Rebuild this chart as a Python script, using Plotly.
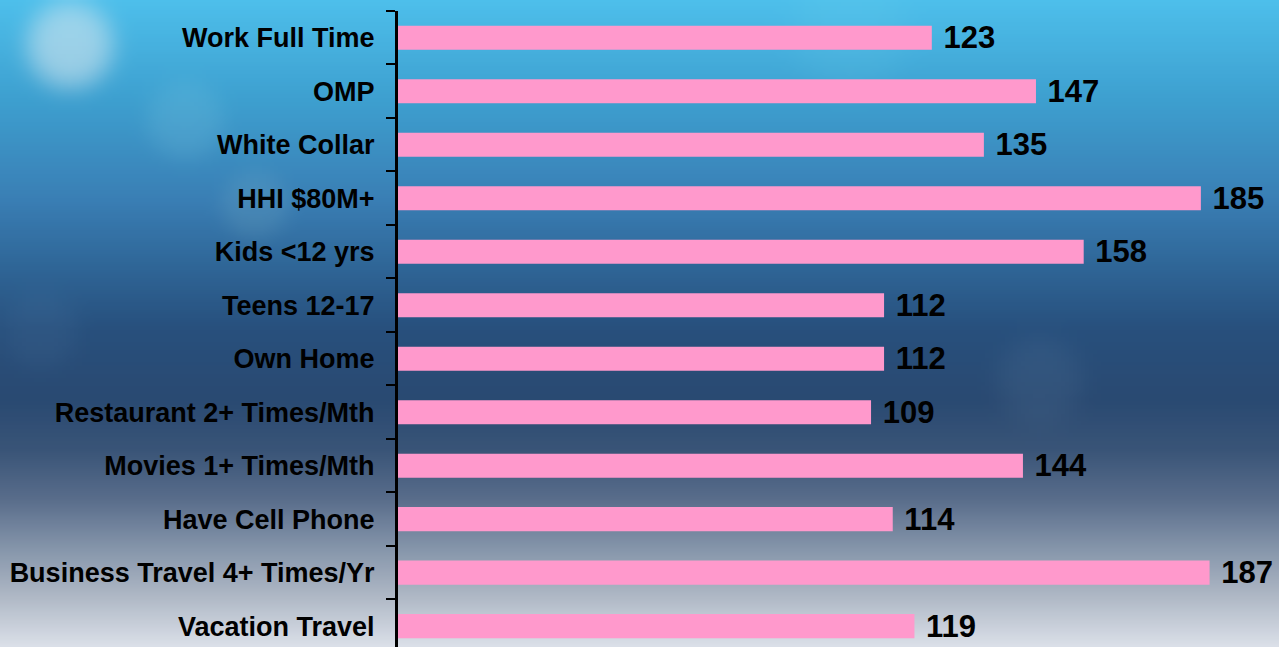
import base64
import math
import struct
import zlib

import plotly.graph_objects as go

# ---------------- data ----------------
categories = [
    "Work Full Time",
    "OMP",
    "White Collar",
    "HHI $80M+",
    "Kids <12 yrs",
    "Teens 12-17",
    "Own Home",
    "Restaurant 2+ Times/Mth",
    "Movies 1+ Times/Mth",
    "Have Cell Phone",
    "Business Travel 4+ Times/Yr",
    "Vacation Travel",
]
values = [123, 147, 135, 185, 158, 112, 112, 109, 144, 114, 187, 119]

# ---------------- background image (pure python png) ----------------
W, H = 320, 162
stops = [
    (0, (0x4e, 0xc0, 0xec)),
    (100, (0x3e, 0xa0, 0xd0)),
    (200, (0x3a, 0x7f, 0xb5)),
    (270, (0x2f, 0x65, 0x96)),
    (330, (0x28, 0x50, 0x7d)),
    (400, (0x2a, 0x4a, 0x72)),
    (450, (0x3a, 0x55, 0x78)),
    (500, (0x5a, 0x6e, 0x8c)),
    (550, (0x87, 0x97, 0xac)),
    (590, (0xaa, 0xb4, 0xc2)),
    (647, (0xdc, 0xe1, 0xea)),
]


def grad(ypix):
    for (y0, c0), (y1, c1) in zip(stops[:-1], stops[1:]):
        if ypix <= y1:
            t = (ypix - y0) / (y1 - y0)
            return [c0[i] + (c1[i] - c0[i]) * t for i in range(3)]
    return list(stops[-1][1])


blobs = [  # x, y (full-res px), radius, strength, colour
    (70, 45, 45, 0.55, (225, 235, 240)),
    (185, 120, 40, 0.18, (140, 210, 230)),
    (255, 205, 35, 0.15, (150, 200, 210)),
    (1040, 380, 45, 0.12, (120, 150, 180)),
    (850, 30, 60, 0.12, (120, 220, 240)),
    (40, 330, 40, 0.08, (120, 160, 200)),
]

rows = []
sx = 1279 / W
sy = 647 / H
for j in range(H):
    ypix = (j + 0.5) * sy
    base = grad(ypix)
    row = bytearray([0])
    for i in range(W):
        xpix = (i + 0.5) * sx
        c = list(base)
        for bx, by, br, bs, bc in blobs:
            d = math.hypot(xpix - bx, ypix - by) / br
            a = bs * math.exp(-(d ** 4))
            if a > 0.002:
                c = [c[k] * (1 - a) + bc[k] * a for k in range(3)]
        row += bytes(int(max(0, min(255, v))) for v in c)
    rows.append(bytes(row))


def png_chunk(tag, data):
    return (struct.pack(">I", len(data)) + tag + data
            + struct.pack(">I", zlib.crc32(tag + data) & 0xFFFFFFFF))


png = b"\x89PNG\r\n\x1a\n"
png += png_chunk(b"IHDR", struct.pack(">IIBBBBB", W, H, 8, 2, 0, 0, 0))
png += png_chunk(b"IDAT", zlib.compress(b"".join(rows), 9))
png += png_chunk(b"IEND", b"")
bg_uri = "data:image/png;base64," + base64.b64encode(png).decode()

# ---------------- figure ----------------
FIG_W, FIG_H = 1279, 647
ML, MR, MT, MB = 398, 0, 11, 0
PW = FIG_W - ML - MR
PH = FIG_H - MT - MB

fig = go.Figure(
    go.Bar(
        x=values,
        y=categories,
        orientation="h",
        width=0.45,
        marker=dict(color="#ff99cc", line=dict(width=0)),
        texttemplate=" %{x}",
        textposition="outside",
        constraintext="none",
        cliponaxis=False,
        textfont=dict(family="Liberation Sans, Arial, sans-serif", size=31,
                      color="black", weight="bold"),
        hoverinfo="skip",
    )
)

fig.update_layout(
    width=FIG_W,
    height=FIG_H,
    margin=dict(l=ML, r=MR, t=MT, b=MB, pad=0),
    paper_bgcolor="rgba(0,0,0,0)",
    plot_bgcolor="rgba(0,0,0,0)",
    showlegend=False,
    images=[dict(
        source=bg_uri,
        xref="paper", yref="paper",
        x=-ML / PW, y=1 + MT / PH,
        sizex=FIG_W / PW, sizey=FIG_H / PH,
        sizing="stretch", xanchor="left", yanchor="top",
        layer="below",
    )],
    xaxis=dict(range=[0, 203], visible=False, fixedrange=True),
    yaxis=dict(
        type="category",
        categoryorder="array",
        categoryarray=categories,
        range=[11.39, -0.5],
        automargin=False,
        showline=True,
        linecolor="black",
        linewidth=3,
        showgrid=False,
        zeroline=False,
        ticks="outside",
        tickson="boundaries",
        ticklen=9,
        tickwidth=2,
        tickcolor="black",
        ticklabelstandoff=15,
        tickfont=dict(family="Liberation Sans, Arial, sans-serif", size=27,
                      color="black", weight="bold"),
    ),
)

fig.write_html(
    "out.html",
    config={"displayModeBar": False},
    post_script="document.body.style.margin='0';document.body.style.overflow='hidden';",
)
